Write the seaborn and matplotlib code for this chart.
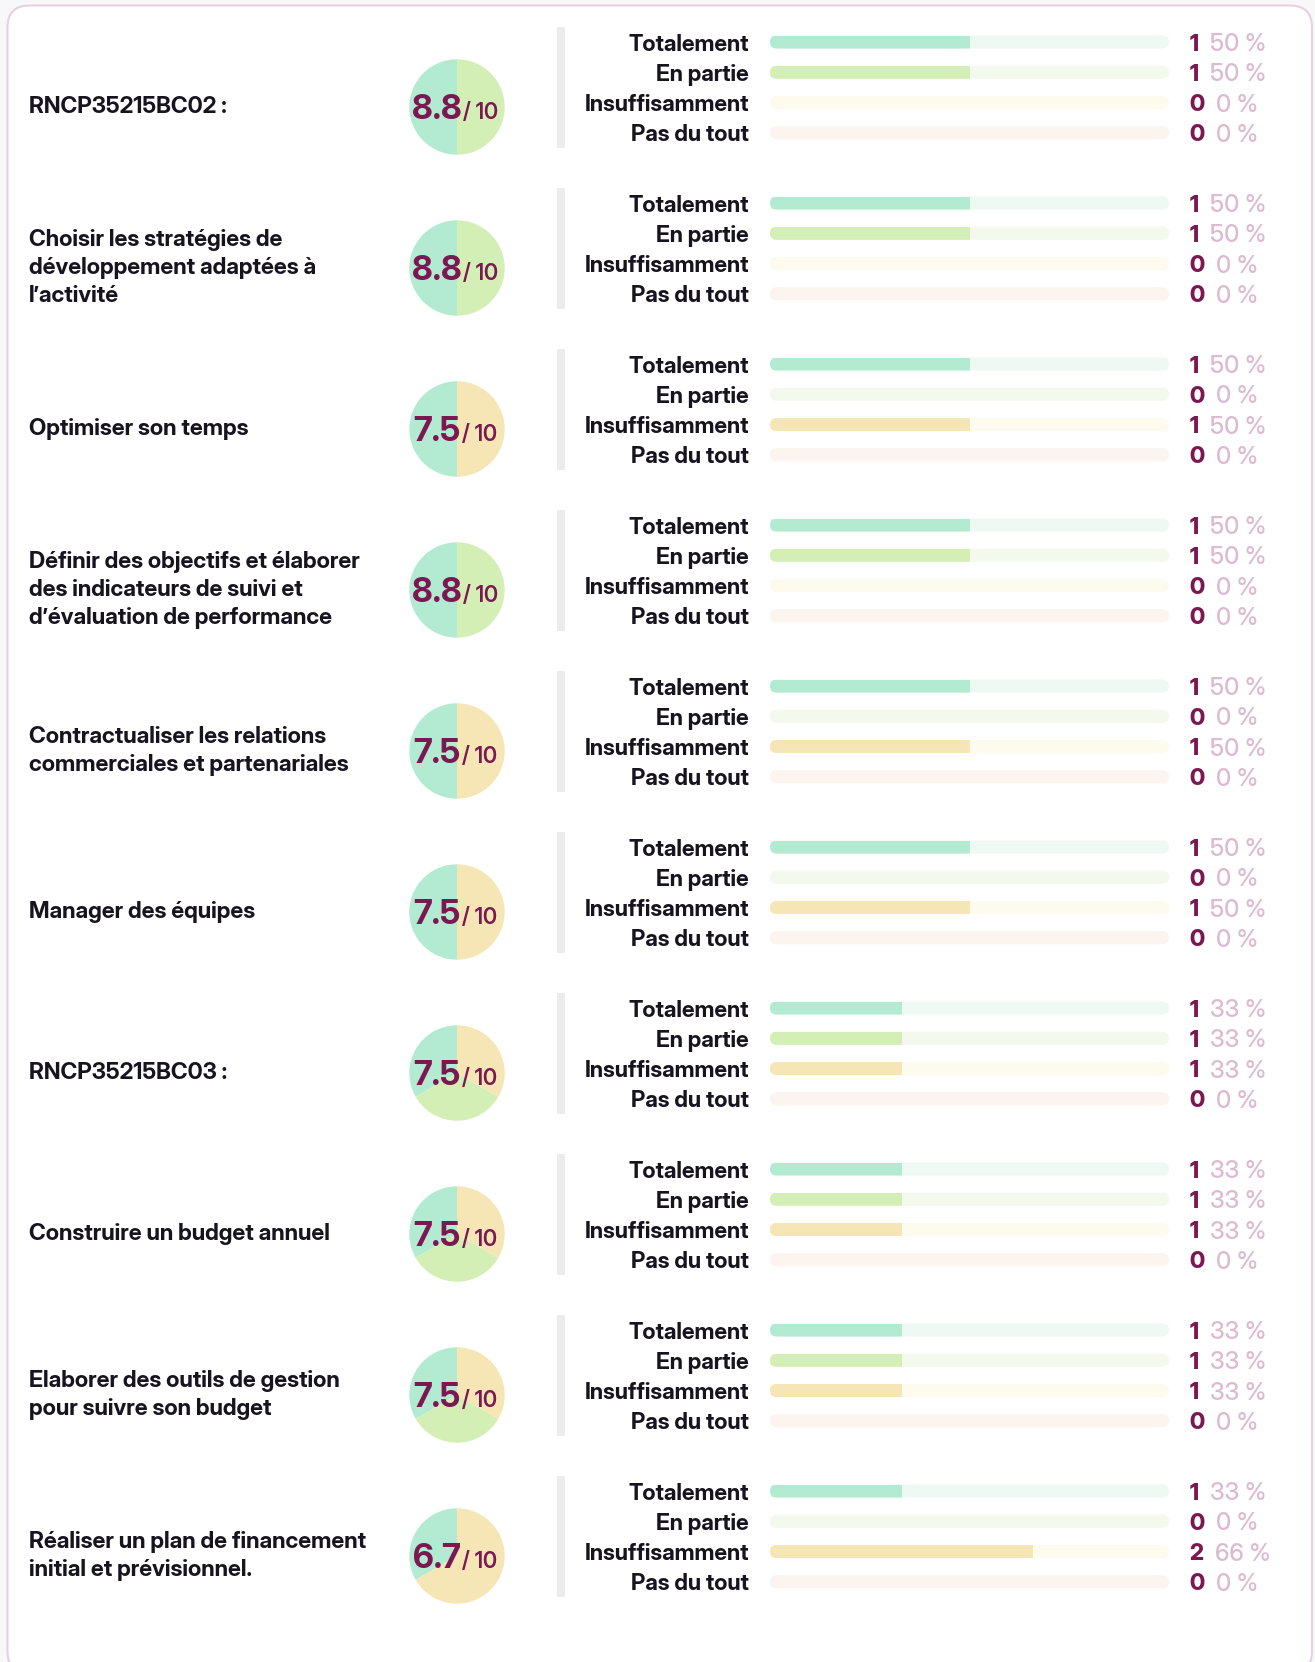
import matplotlib
matplotlib.use("Agg")
import matplotlib.pyplot as plt
from matplotlib.patches import FancyBboxPatch, Rectangle
import seaborn as sns
import pandas as pd

sns.set_theme(style="white")
FONT = ["Inter Display", "DejaVu Sans"]
plt.rcParams["font.family"] = FONT

# ---- data -------------------------------------------------------------
competences = [
    "RNCP35215BC02 :",
    "Choisir les stratégies de\ndéveloppement adaptées à\nl’activité",
    "Optimiser son temps",
    "Définir des objectifs et élaborer\ndes indicateurs de suivi et\nd’évaluation de performance",
    "Contractualiser les relations\ncommerciales et partenariales",
    "Manager des équipes",
    "RNCP35215BC03 :",
    "Construire un budget annuel",
    "Elaborer des outils de gestion\npour suivre son budget",
    "Réaliser un plan de financement\ninitial et prévisionnel.",
]
scores = ["8.8", "8.8", "7.5", "8.8", "7.5", "7.5", "7.5", "7.5", "7.5", "6.7"]
levels = ["Totalement", "En partie", "Insuffisamment", "Pas du tout"]
counts = [
    [1, 1, 0, 0],
    [1, 1, 0, 0],
    [1, 0, 1, 0],
    [1, 1, 0, 0],
    [1, 0, 1, 0],
    [1, 0, 1, 0],
    [1, 1, 1, 0],
    [1, 1, 1, 0],
    [1, 1, 1, 0],
    [1, 0, 2, 0],
]
percents = [
    [50, 50, 0, 0],
    [50, 50, 0, 0],
    [50, 0, 50, 0],
    [50, 50, 0, 0],
    [50, 0, 50, 0],
    [50, 0, 50, 0],
    [33, 33, 33, 0],
    [33, 33, 33, 0],
    [33, 33, 33, 0],
    [33, 0, 66, 0],
]

# ---- style ------------------------------------------------------------
level_colors = ["#b3ebd2", "#d4efb5", "#f6e6b6", "#f8d9cb"]
track_colors = ["#eff9f3", "#f3f9ec", "#fdfaee", "#fcf4ef"]
ink = "#17141f"
plum = "#7c1851"
rose = "#dcbad0"

W, H = 1315, 1662
ROW0, PITCH = 107.0, 161.0
BLOCK_DY, BLOCK_H = -19.6, 121.0
TRACK_X0, TRACK_X1 = 770.0, 1169.0
PIE_CX, PIE_R = 457.0, 47.7
LABEL_X = 29.0
SEP_X, SEP_W = 557.0, 8.0
BAR_W = 0.43

fig = plt.figure(figsize=(W / 100, H / 100), dpi=100)
fig.patch.set_facecolor("#f8f8f8")
renderer = fig.canvas.get_renderer()


def fit_size(sample, weight, target_px):
    """Font size (pt) at which `sample` is `target_px` pixels wide."""
    t = fig.text(0, 0, sample, fontsize=20, fontweight=weight)
    w = t.get_window_extent(renderer).width
    t.remove()
    return 20 * target_px / w


fs_name = fit_size("Réaliser un plan de financement", 700, 337)
fs_level = fit_size("Insuffisamment", 700, 164)
fs_pct = fit_size("50 %", 500, 56)
fs_score = fit_size("8.8", 700, 50)
fs_ten = fit_size("/ 10", 600, 35)


def px_axes(x0, y0, w, h, **kw):
    return fig.add_axes([x0 / W, 1 - (y0 + h) / H, w / W, h / H], **kw)


# background layer in pixel coordinates: card, separators, competence names
bg = px_axes(0, 0, W, H, zorder=-5)
bg.set_xlim(0, W)
bg.set_ylim(H, 0)
bg.axis("off")
bg.add_patch(FancyBboxPatch((7.5, 5.5), 1304.5, 1668, boxstyle="round,pad=0,rounding_size=22",
                            facecolor="white", edgecolor="#e8d0e0", linewidth=1.5))

px_per_x = (TRACK_X1 - TRACK_X0) / 100.0
px_per_y = BLOCK_H / 4.0
r_x = (BAR_W * px_per_y / 2.0) / px_per_x
m_aspect = (1.0 / px_per_y) / (1.0 / px_per_x)

score_pairs = []

for i, name in enumerate(competences):
    cy = ROW0 + i * PITCH
    by = cy + BLOCK_DY

    bg.text(LABEL_X, cy, name, ha="left", va="center", fontsize=fs_name, fontweight=700,
            color=ink, linespacing=1.37)
    bg.add_patch(Rectangle((SEP_X, by - BLOCK_H / 2), SEP_W, BLOCK_H, facecolor="#ececec",
                           edgecolor="none"))

    # --- pie of answers ---
    pax = px_axes(PIE_CX - PIE_R, cy - PIE_R, 2 * PIE_R, 2 * PIE_R)
    pax.pie(counts[i], colors=level_colors, startangle=90, counterclock=True, radius=1,
            wedgeprops=dict(linewidth=0))
    pax.set_xlim(-1, 1)
    pax.set_ylim(-1, 1)
    pax.set_aspect("equal")
    pax.axis("off")
    t1 = pax.text(0, -0.245, scores[i], ha="left", va="baseline", fontsize=fs_score,
                  fontweight=700, color=plum, zorder=5)
    t2 = pax.text(0, -0.245, "/ 10", ha="left", va="baseline", fontsize=fs_ten,
                  fontweight=600, color=plum, zorder=5)
    score_pairs.append((pax, t1, t2))

    # --- horizontal bars ---
    ax = px_axes(TRACK_X0, by - BLOCK_H / 2, TRACK_X1 - TRACK_X0, BLOCK_H)
    df = pd.DataFrame({"niveau": levels, "pct": percents[i], "track": [100] * 4})
    sns.barplot(data=df, x="track", y="niveau", hue="niveau", palette=track_colors,
                saturation=1, dodge=False, width=BAR_W, legend=False, errorbar=None,
                orient="h", ax=ax)
    tracks = {}
    for p in list(ax.patches):
        x, y, w, h = p.get_x(), p.get_y(), p.get_width(), p.get_height()
        fc = p.get_facecolor()
        p.remove()
        rp = FancyBboxPatch((x, y), w, h, boxstyle=f"round,pad=0,rounding_size={r_x}",
                            mutation_aspect=m_aspect, facecolor=fc, edgecolor="none")
        ax.add_patch(rp)
        tracks[round(y + h / 2)] = rp
    before = set(ax.patches)
    sns.barplot(data=df, x="pct", y="niveau", hue="niveau", palette=level_colors,
                saturation=1, dodge=False, width=BAR_W, legend=False, errorbar=None,
                orient="h", ax=ax)
    for p in ax.patches:
        if p in before:
            continue
        p.set_edgecolor("none")
        p.set_linewidth(0)
        p.set_clip_path(tracks[round(p.get_y() + p.get_height() / 2)])

    ax.set_xlim(0, 100)
    ax.set_ylim(3.5, -0.5)
    ax.set_facecolor("none")
    ax.set_xlabel("")
    ax.set_ylabel("")
    ax.set_xticks([])
    ax.set_yticks(range(4))
    ax.set_yticklabels(levels, fontsize=fs_level, fontweight=700, color=ink,
                       va="center_baseline")
    ax.tick_params(axis="y", length=0, pad=15.3)
    sns.despine(ax=ax, left=True, bottom=True)
    ax.grid(False)

    for j in range(4):
        tc = ax.annotate(str(counts[i][j]), xy=(100, j), xytext=(14.5, 0),
                         textcoords="offset points", ha="left", va="center_baseline",
                         fontsize=fs_level, fontweight=800, color=plum, annotation_clip=False)
        ax.annotate(f"{percents[i][j]} %", xy=(1, j), xycoords=(tc, "data"), xytext=(8.5, 0),
                    textcoords="offset points", ha="left", va="center_baseline",
                    fontsize=fs_pct, fontweight=500, color=rose, annotation_clip=False)

# centre each score ("8.8/ 10") on its pie
fig.canvas.draw()
gap = 1.5
for pax, t1, t2 in score_pairs:
    w1 = t1.get_window_extent(renderer).width
    w2 = t2.get_window_extent(renderer).width
    total = w1 + gap + w2
    x1 = (-total / 2 - 2) / PIE_R
    t1.set_x(x1)
    t2.set_x(x1 + (w1 + gap) / PIE_R)

fig.savefig("out.png", dpi=100, facecolor=fig.get_facecolor())
